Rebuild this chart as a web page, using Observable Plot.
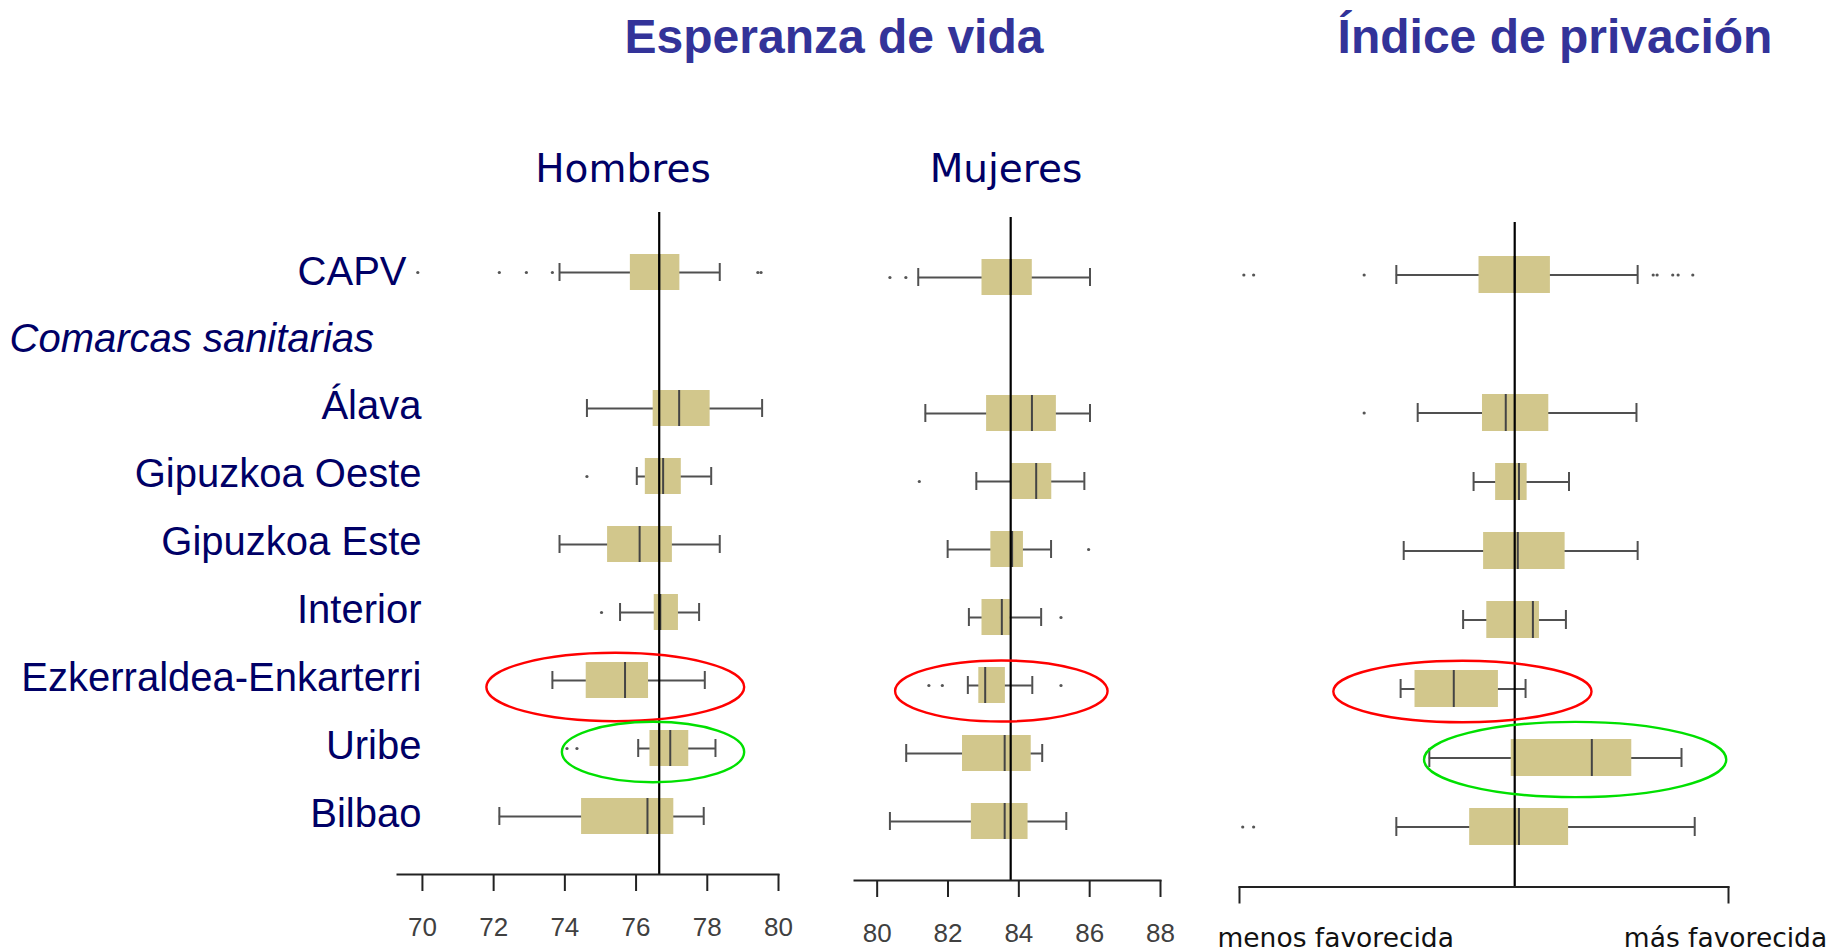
<!DOCTYPE html>
<html><head><meta charset="utf-8">
<script src="https://cdn.jsdelivr.net/npm/d3@7"></script>
<script src="https://cdn.jsdelivr.net/npm/@observablehq/plot@0.6"></script>
<style>
body{margin:0;background:#fff;}
#wrap{position:relative;width:1829px;height:952px;overflow:hidden;background:#fff;}
.panel{position:absolute;top:0;}
.title{position:absolute;z-index:5;font-family:"Liberation Sans",Arial,sans-serif;font-weight:bold;font-size:48px;color:#333399;white-space:nowrap;transform:translateX(-50%);line-height:48px;}
.sub{position:absolute;z-index:5;font-family:"DejaVu Sans",Verdana,sans-serif;font-size:39px;color:#000066;white-space:nowrap;transform:translateX(-50%);line-height:39px;}
</style></head>
<body><div id="wrap">
<div class="title" style="left:834px;top:13px">Esperanza de vida</div>
<div class="title" style="left:1555px;top:13px">Índice de privación</div>
<div class="sub" style="left:623px;top:149px">Hombres</div>
<div class="sub" style="left:1006px;top:149px">Mujeres</div>
</div>
<script>
// ---------- data ----------
const regions = ["CAPV","Comarcas sanitarias","Álava","Gipuzkoa Oeste","Gipuzkoa Este","Interior","Ezkerraldea-Enkarterri","Uribe","Bilbao"];
const boxRegions = ["CAPV","Álava","Gipuzkoa Oeste","Gipuzkoa Este","Interior","Ezkerraldea-Enkarterri","Uribe","Bilbao"];

// Esperanza de vida – Hombres
const hombresLow  = [73.85, 74.62, 76.02, 73.85, 75.55, 73.65, 76.06, 72.16];
const hombresQ1   = [75.84, 76.48, 76.26, 75.20, 76.51, 74.60, 76.39, 74.47];
const hombresMed  = [76.65, 77.21, 76.76, 76.10, 76.68, 75.69, 76.96, 76.32];
const hombresQ3   = [77.23, 78.08, 77.27, 77.02, 77.19, 76.35, 77.48, 77.06];
const hombresHigh = [78.35, 79.54, 78.11, 78.35, 77.77, 77.93, 78.23, 77.90];
const hombresOutRegion = ["CAPV","CAPV","CAPV","CAPV","CAPV","CAPV","Gipuzkoa Oeste","Interior","Uribe","Uribe"];
const hombresOutValue  = [69.87, 72.16, 72.92, 73.65, 79.42, 79.51, 74.62, 75.03, 74.06, 74.34];
const hombresRef = 76.65;
const hombresTicks = [70, 72, 74, 76, 78, 80];
const hombresCircleRegion = ["Ezkerraldea-Enkarterri", "Uribe"];
const hombresCircleCenter = [75.43, 76.49];
const hombresCircleHalfWidth = [3.62, 2.56];

// Esperanza de vida – Mujeres
const mujeresLow  = [81.16, 81.36, 82.80, 81.99, 82.59, 82.56, 80.82, 80.36];
const mujeresQ1   = [82.96, 83.09, 83.79, 83.21, 82.96, 82.87, 82.41, 82.66];
const mujeresMed  = [83.77, 84.37, 84.49, 83.81, 83.52, 83.05, 83.60, 83.60];
const mujeresQ3   = [84.38, 85.06, 84.93, 84.13, 83.76, 83.62, 84.35, 84.26];
const mujeresHigh = [86.01, 86.01, 85.85, 84.91, 84.63, 84.38, 84.66, 85.34];
const mujeresOutRegion = ["CAPV","CAPV","Gipuzkoa Oeste","Gipuzkoa Este","Interior","Ezkerraldea-Enkarterri","Ezkerraldea-Enkarterri","Ezkerraldea-Enkarterri"];
const mujeresOutValue  = [80.36, 80.81, 81.19, 85.97, 85.19, 81.46, 81.84, 85.19];
const mujeresRef = 83.77;
const mujeresTicks = [80, 82, 84, 86, 88];
const mujeresCircleRegion = ["Ezkerraldea-Enkarterri"];
const mujeresCircleCenter = [83.52];
const mujeresCircleHalfWidth = [3.0];

// Índice de privación (escala relativa 0–100)
const privLow  = [32.07, 36.44, 47.87, 33.58, 45.73, 32.95, 38.82, 32.07];
const privQ1   = [48.98, 49.69, 52.38, 49.92, 50.57, 35.89, 55.57, 47.07];
const privMed  = [56.28, 54.45, 57.15, 56.91, 60.00, 43.82, 72.05, 57.15];
const privQ3   = [63.58, 63.25, 58.82, 66.59, 61.34, 52.95, 80.22, 67.30];
const privHigh = [81.42, 81.18, 67.38, 81.42, 66.75, 58.50, 90.39, 93.09];
const privOutRegion = ["CAPV","CAPV","CAPV","CAPV","CAPV","CAPV","CAPV","CAPV","Álava","Bilbao","Bilbao"];
const privOutValue  = [0.89, 2.89, 25.49, 84.6, 85.4, 88.6, 89.7, 92.7, 25.49, 0.66, 2.89];
const privRef = 56.28;
const privTickValues = [0, 100];
const privTickLabels = ["menos favorecida", "más favorecida"];
const privCircleRegion = ["Ezkerraldea-Enkarterri", "Uribe"];
const privCircleCenter = [45.69, 68.74];
const privCircleHalfWidth = [26.4, 30.9];

// ---------- helpers ----------
const BOX_FILL = "#d2c78c";
const WHISK = "#505050";
const NAVY = "#000066";

function table(low, q1, med, q3, high) {
  return boxRegions.map((r, i) => ({region: r, low: low[i], q1: q1[i], med: med[i], q3: q3[i], high: high[i]}));
}
function outliers(regs, vals) { return regs.map((r, i) => ({region: r, value: vals[i]})); }

function ellipseMark(regs, centers, halfWidths, colors, ryFrac, dyPx) {
  return (index, scales) => {
    const g = d3.create("svg:g");
    const y = scales.y;
    const bw = typeof y.bandwidth === "function" ? y.bandwidth() : (y.bandwidth || 0);
    regs.forEach((r, i) => {
      const cx = scales.x(centers[i]);
      const rx = scales.x(centers[i] + halfWidths[i]) - cx;
      g.append("ellipse")
        .attr("cx", cx).attr("cy", y(r) + bw / 2 + dyPx[i])
        .attr("rx", rx).attr("ry", ryFrac[i] * bw)
        .attr("fill", "none").attr("stroke", colors[i]).attr("stroke-width", 2.4);
    });
    return g.node();
  };
}

function panel(cfg) {
  const data = table(cfg.low, cfg.q1, cfg.med, cfg.q3, cfg.high);
  const outs = outliers(cfg.outRegion, cfg.outValue);
  const boxInset = 16, capInset = 25;
  return Plot.plot({
    width: cfg.width, height: 952,
    marginLeft: cfg.marginLeft, marginRight: cfg.marginRight,
    marginTop: cfg.marginTop, marginBottom: cfg.marginBottom,
    style: {background: "transparent", maxWidth: "none", color: "#222", fontFamily: "Liberation Sans, Arial, sans-serif"},
    x: {domain: cfg.domain, axis: null},
    y: {type: "band", domain: regions, paddingInner: 0, paddingOuter: cfg.paddingOuter, align: cfg.align, axis: null},
    marks: [
      Plot.ruleY(data, {y: "region", x1: "low", x2: "high", stroke: WHISK, strokeWidth: 2}),
      Plot.tickX(data, {y: "region", x: "low", insetTop: capInset, insetBottom: capInset, stroke: WHISK, strokeWidth: 2}),
      Plot.tickX(data, {y: "region", x: "high", insetTop: capInset, insetBottom: capInset, stroke: WHISK, strokeWidth: 2}),
      Plot.barX(data, {y: "region", x1: "q1", x2: "q3", fill: BOX_FILL, insetTop: boxInset, insetBottom: boxInset}),
      Plot.tickX(data, {y: "region", x: "med", insetTop: boxInset, insetBottom: boxInset, stroke: "#444", strokeWidth: 2}),
      Plot.dot(outs, {x: "value", y: "region", r: 1.6, fill: "#555", stroke: null}),
      Plot.ruleX([cfg.ref], {stroke: "#000", strokeWidth: 2.2}),
      Plot.frame({anchor: "bottom", stroke: "#222", strokeWidth: 2}),
      ...cfg.axes,
      ellipseMark(cfg.circRegion, cfg.circCenter, cfg.circHalf, cfg.circColors, cfg.circRy, cfg.circDy)
    ]
  });
}

const wrap = document.getElementById("wrap");
function place(svg, left) {
  svg.classList.add("panel");
  svg.style.left = left + "px";
  svg.style.position = "absolute";
  wrap.appendChild(svg);
}

const numAxis = (ticks) => Plot.axisX(ticks, {
  tickSize: 17, tickPadding: 26, fontSize: 26, strokeWidth: 2, stroke: "#222",
  fill: "#404040", fontFamily: "Liberation Sans Narrow, Arial Narrow, Liberation Sans, sans-serif",
  tickFormat: d => String(d)
});
const labelFont = "Liberation Sans, Arial, sans-serif";

// Hombres (with row labels)
place(panel({
  width: 800, marginLeft: 397, marginRight: 22, marginTop: 212, marginBottom: 78,
  domain: [69.3, 80], paddingOuter: 0.346, align: 0.52,
  low: hombresLow, q1: hombresQ1, med: hombresMed, q3: hombresQ3, high: hombresHigh,
  outRegion: hombresOutRegion, outValue: hombresOutValue, ref: hombresRef,
  axes: [
    numAxis(hombresTicks),
    Plot.text(boxRegions.filter(r => r !== "CAPV"), {y: d => d, frameAnchor: "left", textAnchor: "end", dx: 24, dy: -2, fontSize: 40, fill: NAVY, fontFamily: labelFont}),
    Plot.text(["CAPV"], {y: d => d, frameAnchor: "left", textAnchor: "end", dx: 9, dy: 0, fontSize: 40, fill: NAVY, fontFamily: labelFont}),
    Plot.text(["Comarcas sanitarias"], {y: d => d, frameAnchor: "left", textAnchor: "start", dx: -388, dy: -1, fontSize: 40, fontStyle: "italic", fill: NAVY, fontFamily: labelFont})
  ],
  circRegion: hombresCircleRegion, circCenter: hombresCircleCenter, circHalf: hombresCircleHalfWidth,
  circColors: ["#ff0000", "#00e000"], circRy: [0.503, 0.444], circDy: [7, 4]
}), 0);

// Mujeres
place(panel({
  width: 360, marginLeft: 34, marginRight: 20, marginTop: 217, marginBottom: 72,
  domain: [79.36, 88], paddingOuter: 0.375, align: 0.51,
  low: mujeresLow, q1: mujeresQ1, med: mujeresMed, q3: mujeresQ3, high: mujeresHigh,
  outRegion: mujeresOutRegion, outValue: mujeresOutValue, ref: mujeresRef,
  axes: [numAxis(mujeresTicks)],
  circRegion: mujeresCircleRegion, circCenter: mujeresCircleCenter, circHalf: mujeresCircleHalfWidth,
  circColors: ["#ff0000"], circRy: [0.449], circDy: [6]
}), 820);

// Índice de privación
const privLabel = d => privTickLabels[privTickValues.indexOf(d)];
const privFont = "DejaVu Sans, Verdana, sans-serif";
place(panel({
  width: 629, marginLeft: 39, marginRight: 101, marginTop: 222, marginBottom: 65.5,
  domain: [0, 100], paddingOuter: 0.3035, align: 0.41,
  low: privLow, q1: privQ1, med: privMed, q3: privQ3, high: privHigh,
  outRegion: privOutRegion, outValue: privOutValue, ref: privRef,
  axes: [
    Plot.axisX(privTickValues, {tickSize: 17, strokeWidth: 2, stroke: "#222", tickFormat: () => ""}),
    Plot.axisX([privTickValues[0]], {tickSize: 0, tickPadding: 41, fontSize: 26.5, fill: "#111",
      fontFamily: privFont, tickFormat: privLabel, textAnchor: "start", dx: -22}),
    Plot.axisX([privTickValues[1]], {tickSize: 0, tickPadding: 41, fontSize: 26.5, fill: "#111",
      fontFamily: privFont, tickFormat: privLabel, textAnchor: "middle", dx: -3})
  ],
  circRegion: privCircleRegion, circCenter: privCircleCenter, circHalf: privCircleHalfWidth,
  circColors: ["#ff0000", "#00e000"], circRy: [0.445, 0.546], circDy: [3, 2]
}), 1200);
</script>
</body></html>
